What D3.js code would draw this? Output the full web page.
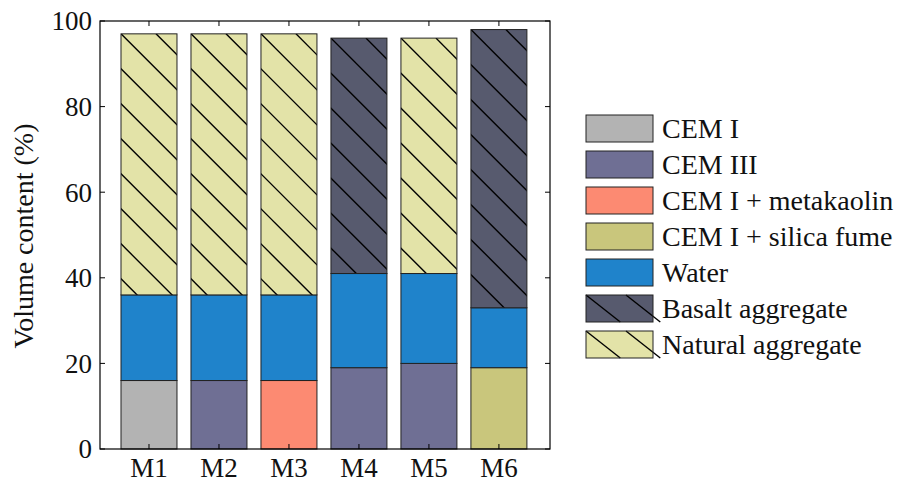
<!DOCTYPE html>
<html><head><meta charset="utf-8">
<script src="https://cdn.jsdelivr.net/npm/d3@7"></script>
<style>body{margin:0;background:#fff}svg{display:block}</style>
</head><body>
<svg id="c" width="901" height="484"></svg>
<script>
const categories = ["M1","M2","M3","M4","M5","M6"];
const seriesNames = ["CEM I","CEM III","CEM I + metakaolin","CEM I + silica fume","Water","Basalt aggregate","Natural aggregate"];
const seriesColors = ["#b3b3b3","#6f6f94","#fc8a72","#c9c67c","#1f83cb","#575a6e","#e3e3a8"];
const seriesHatched = [false,false,false,false,false,true,true];
// values per series, indexed by category
const cemI        = [16, 0, 0, 0, 0, 0];
const cemIII      = [0, 16, 0, 19, 20, 0];
const metakaolin  = [0, 0, 16, 0, 0, 0];
const silicaFume  = [0, 0, 0, 0, 0, 19];
const water       = [20, 20, 20, 22, 21, 14];
const basalt      = [0, 0, 0, 55, 0, 65];
const natural     = [61, 61, 61, 0, 55, 0];
const yTicks = [0,20,40,60,80,100];

const series = [cemI, cemIII, metakaolin, silicaFume, water, basalt, natural];
const FONT = '"Liberation Serif"';

const svg = d3.select("#c");
const L = 100, R = 550, T = 21, B = 449;
const x = d3.scaleLinear().domain([0.3, 6.73]).range([L, R]);
const y = d3.scaleLinear().domain([0, 100]).range([B, T]);
const barW = x(1.4) - x(0.6);

const segs = [];
categories.forEach((c, i) => {
  let base = 0;
  series.forEach((s, k) => {
    const v = s[i];
    if (v > 0) { segs.push({cat: i, k, y0: base, y1: base + v}); base += v; }
  });
});

const defs = svg.append("defs");
const g = svg.append("g");
segs.forEach((d, j) => {
  const x0 = x(d.cat + 1) - barW / 2, yt = y(d.y1), h = y(d.y0) - y(d.y1);
  g.append("rect").attr("x", x0).attr("y", yt).attr("width", barW).attr("height", h)
    .attr("fill", seriesColors[d.k]);
  if (seriesHatched[d.k]) {
    const id = "clip" + j;
    defs.append("clipPath").attr("id", id).append("rect")
      .attr("x", x0).attr("y", yt).attr("width", barW).attr("height", h);
    const sp = 35;
    const hg = g.append("g").attr("clip-path", `url(#${id})`);
    for (let k = -Math.ceil(h / sp) - 1; k <= Math.ceil(barW / sp) + 1; k++) {
      const sx = x0 + k * sp;
      hg.append("line").attr("x1", sx).attr("y1", yt).attr("x2", sx + h + 10).attr("y2", yt + h + 10)
        .attr("stroke", "#000").attr("stroke-width", 1.4);
    }
  }
  g.append("rect").attr("x", x0).attr("y", yt).attr("width", barW).attr("height", h)
    .attr("fill", "none").attr("stroke", "#222").attr("stroke-width", 1);
});

svg.append("rect").attr("x", L).attr("y", T).attr("width", R - L).attr("height", B - T)
  .attr("fill", "none").attr("stroke", "#000").attr("stroke-width", 1.2);

const ax = svg.append("g");
yTicks.forEach(t => {
  ax.append("line").attr("x1", L).attr("x2", L + 5).attr("y1", y(t)).attr("y2", y(t)).attr("stroke", "#000");
  ax.append("line").attr("x1", R).attr("x2", R - 5).attr("y1", y(t)).attr("y2", y(t)).attr("stroke", "#000");
  ax.append("text").attr("x", L - 8).attr("y", y(t)).attr("dy", "0.35em").attr("text-anchor", "end")
    .style("font-family", FONT).style("font-size", "27px").attr("fill", "#111").text(t);
});
categories.forEach((c, i) => {
  ax.append("line").attr("x1", x(i + 1)).attr("x2", x(i + 1)).attr("y1", B).attr("y2", B - 5).attr("stroke", "#000");
  ax.append("line").attr("x1", x(i + 1)).attr("x2", x(i + 1)).attr("y1", T).attr("y2", T + 5).attr("stroke", "#000");
  ax.append("text").attr("x", x(i + 1)).attr("y", B + 28).attr("text-anchor", "middle")
    .style("font-family", FONT).style("font-size", "27px").attr("fill", "#111").text(c);
});
svg.append("text").attr("transform", `translate(33,${(T + B) / 2 + 1}) rotate(-90)`)
  .attr("text-anchor", "middle").style("font-family", FONT).style("font-size", "28px").attr("fill", "#111")
  .text("Volume content (%)");

const lg = svg.append("g");
seriesNames.forEach((n, k) => {
  const bx = 586, by = 115 + k * 36, bw = 67, bh = 27;
  lg.append("rect").attr("x", bx).attr("y", by).attr("width", bw).attr("height", bh).attr("fill", seriesColors[k]);
  if (seriesHatched[k]) {
    [0, 40].forEach(off => {
      lg.append("line").attr("x1", bx + off).attr("y1", by).attr("x2", bx + off + bh * 1.27).attr("y2", by + bh)
        .attr("stroke", "#000").attr("stroke-width", 1.4);
    });
  }
  lg.append("rect").attr("x", bx).attr("y", by).attr("width", bw).attr("height", bh)
    .attr("fill", "none").attr("stroke", "#222").attr("stroke-width", 1);
  lg.append("text").attr("x", 662).attr("y", by + bh / 2).attr("dy", "0.35em")
    .style("font-family", FONT).style("font-size", "28px").attr("fill", "#111").text(n);
});
</script>
</body></html>
